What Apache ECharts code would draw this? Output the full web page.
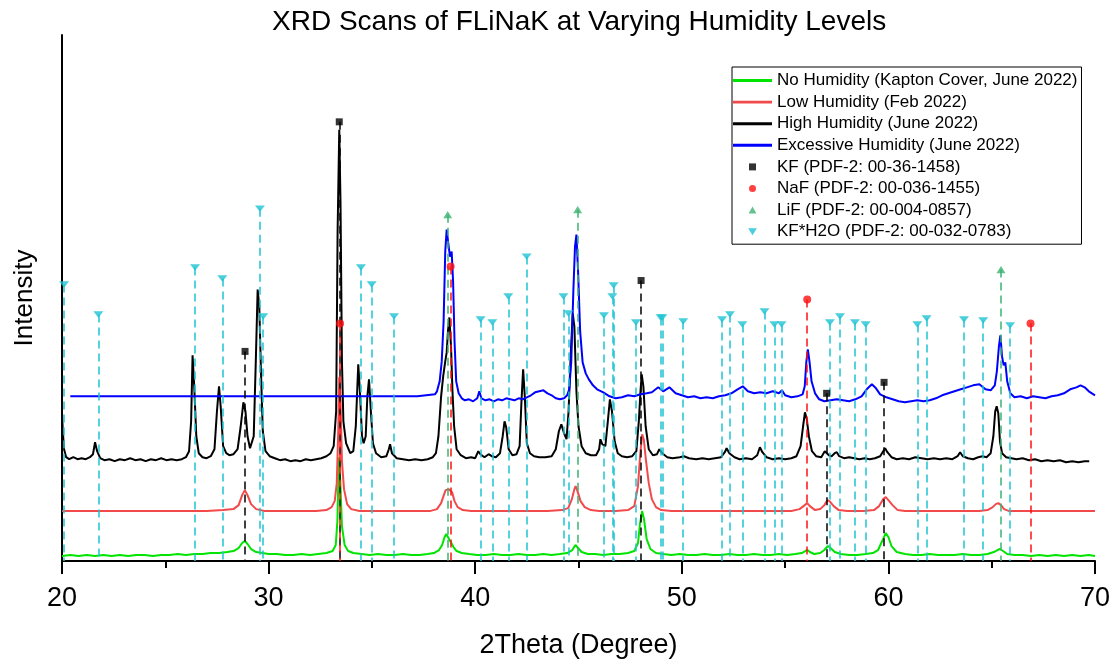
<!DOCTYPE html>
<html>
<head>
<meta charset="utf-8">
<title>XRD Scans of FLiNaK</title>
<script src="https://cdn.jsdelivr.net/npm/echarts/dist/echarts.min.js"></script>
<style>
  html, body { margin: 0; padding: 0; background: #ffffff; }
  #chart { width: 1117px; height: 664px; }
</style>
</head>
<body>
<div id="chart"></div>
<script>
// 2Theta (degree) vs. intensity, each scan stacked with its own vertical offset.
const noHumidity = [
  [20.0,5],[20.4,6],[20.8,5],[21.2,6],[21.6,5],[22.0,6],[22.4,5],[22.8,6],[23.2,5],[23.6,6],[24.0,6],[24.4,5],
  [24.8,6],[25.2,6],[25.6,7],[26.0,6],[26.4,7],[26.8,7],[27.2,8],[27.6,8],[28.0,9],[28.3,10],[28.55,13],[28.72,18],
  [28.85,20],[28.98,17],[29.15,12],[29.4,9],[29.7,8],[30.0,7],[30.4,7],[30.8,6],[31.2,6],[31.6,7],[32.0,6],[32.4,7],
  [32.8,8],[33.1,10],[33.25,16],[33.33,40],[33.4,104],[33.47,80],[33.55,35],[33.68,16],[33.85,10],[34.1,8],[34.5,7],
  [34.9,6],[35.3,7],[35.7,6],[36.1,6],[36.5,7],[36.9,6],[37.3,6],[37.7,7],[38.0,8],[38.25,11],[38.4,16],[38.52,24],
  [38.6,27],[38.68,24],[38.76,21],[38.84,19],[38.95,14],[39.1,10],[39.35,8],[39.7,7],[40.1,6],[40.5,6],[40.9,7],
  [41.3,6],[41.7,6],[42.1,7],[42.5,6],[42.9,6],[43.3,7],[43.7,6],[44.1,7],[44.45,8],[44.7,11],[44.85,16],[44.98,13],
  [45.15,9],[45.45,7],[45.8,7],[46.2,6],[46.6,7],[47.0,7],[47.4,8],[47.7,10],[47.88,18],[47.98,38],[48.08,50],
  [48.17,42],[48.3,22],[48.48,12],[48.75,8],[49.1,7],[49.5,6],[49.9,7],[50.3,6],[50.7,6],[51.1,7],[51.5,6],[51.9,6],
  [52.3,7],[52.7,6],[53.1,6],[53.5,7],[53.9,6],[54.3,6],[54.7,7],[55.1,6],[55.5,7],[55.8,8],[55.98,10],[56.08,11],
  [56.2,9],[56.4,7],[56.7,8],[56.9,11],[57.07,15],[57.2,13],[57.4,9],[57.7,7],[58.1,6],[58.5,6],[58.9,7],[59.25,8],
  [59.5,11],[59.7,20],[59.87,28],[60.0,24],[60.15,15],[60.4,9],[60.8,7],[61.2,6],[61.6,6],[62.0,7],[62.4,6],[62.8,6],
  [63.2,6],[63.6,7],[64.0,6],[64.4,6],[64.8,7],[65.1,9],[65.28,11],[65.4,12],[65.55,10],[65.75,7],[66.1,6],[66.5,6],
  [66.9,5],[67.3,6],[67.7,5],[68.1,6],[68.5,5],[68.9,6],[69.3,5],[69.7,6],[70.0,5]
];

const lowHumidity = [
  [20.0,50],[21.0,50],[22.0,50],[23.0,50],[24.0,50],[25.0,50],[26.0,50],[27.0,50],[27.8,51],[28.3,52],[28.55,56],
  [28.72,66],[28.85,71],[28.98,66],[29.15,57],[29.4,52],[29.8,50],[30.5,50],[31.5,50],[32.3,50],[32.8,51],[33.05,54],
  [33.2,60],[33.3,78],[33.37,130],[33.42,184],[33.48,160],[33.55,100],[33.65,72],[33.8,57],[34.0,52],[34.4,50],
  [35.0,50],[36.0,50],[37.0,50],[37.8,50],[38.15,52],[38.35,58],[38.48,66],[38.57,71],[38.65,69],[38.72,72],[38.8,74],
  [38.88,69],[39.0,60],[39.15,54],[39.4,51],[39.8,50],[40.5,50],[41.5,50],[42.5,50],[43.5,50],[44.2,51],[44.5,53],
  [44.68,62],[44.8,72],[44.86,75],[44.95,70],[45.1,60],[45.3,54],[45.6,51],[46.0,50],[46.8,50],[47.4,51],[47.7,55],
  [47.88,75],[47.98,105],[48.08,127],[48.16,122],[48.27,100],[48.4,78],[48.55,62],[48.75,54],[49.0,51],[49.5,50],
  [50.5,50],[51.5,50],[52.5,50],[53.5,50],[54.5,50],[55.3,50],[55.7,52],[55.95,56],[56.07,58],[56.2,55],[56.45,51],
  [56.7,52],[56.9,56],[57.05,61],[57.15,60],[57.35,55],[57.6,51],[58.0,50],[58.8,50],[59.3,51],[59.55,55],[59.75,62],
  [59.87,64],[60.0,61],[60.2,56],[60.45,51],[60.8,50],[61.5,50],[62.5,50],[63.5,50],[64.4,50],[64.8,51],[65.05,54],
  [65.2,57],[65.32,58],[65.45,56],[65.6,52],[65.85,50],[66.5,50],[67.5,50],[68.5,50],[69.5,50],[70.0,50]
];

const highHumidity = [
  [20.0,148],[20.04,130],[20.1,112],[20.2,104],[20.35,102],[20.55,104],[20.75,102],[20.95,103],[21.15,102],[21.35,104],
  [21.5,107],[21.6,119],[21.7,110],[21.85,103],[22.05,101],[22.3,102],[22.55,100],[22.8,102],[23.05,101],[23.3,103],
  [23.55,101],[23.8,102],[24.05,100],[24.3,102],[24.55,101],[24.8,103],[25.05,101],[25.3,102],[25.55,101],[25.8,102],
  [26.0,104],[26.15,110],[26.25,140],[26.32,206],[26.4,175],[26.5,125],[26.62,108],[26.8,104],[27.0,103],[27.2,105],
  [27.38,112],[27.5,150],[27.6,175],[27.68,155],[27.8,115],[27.95,108],[28.1,106],[28.3,107],[28.5,112],[28.65,135],
  [28.78,159],[28.88,150],[28.98,125],[29.1,113],[29.18,112],[29.28,125],[29.38,200],[29.47,272],[29.55,255],
  [29.63,190],[29.72,130],[29.85,110],[30.05,105],[30.3,103],[30.55,101],[30.8,102],[31.05,100],[31.3,101],[31.55,100],
  [31.8,102],[32.05,101],[32.3,102],[32.55,103],[32.8,105],[33.0,108],[33.15,115],[33.27,150],[33.34,330],[33.42,432],
  [33.48,360],[33.55,200],[33.62,140],[33.75,118],[33.95,108],[34.1,110],[34.22,135],[34.34,197],[34.42,170],
  [34.52,125],[34.6,118],[34.7,125],[34.78,165],[34.86,182],[34.95,150],[35.05,118],[35.2,108],[35.45,104],[35.7,105],
  [35.82,112],[35.88,117],[35.97,108],[36.2,103],[36.5,102],[36.8,101],[37.1,102],[37.4,101],[37.7,102],[37.95,104],
  [38.1,108],[38.22,125],[38.35,165],[38.45,185],[38.55,200],[38.62,209],[38.68,230],[38.75,244],[38.83,215],
  [38.9,170],[38.98,135],[39.1,112],[39.3,106],[39.55,103],[39.8,104],[40.0,103],[40.15,110],[40.25,107],[40.45,104],
  [40.65,107],[40.8,105],[41.0,104],[41.2,108],[41.33,125],[41.42,140],[41.5,134],[41.62,112],[41.8,106],[42.0,107],
  [42.15,115],[42.24,160],[42.32,192],[42.4,165],[42.5,118],[42.65,108],[42.85,105],[43.1,104],[43.4,104],[43.7,105],
  [43.9,112],[44.05,130],[44.17,137],[44.3,128],[44.42,122],[44.52,150],[44.62,205],[44.72,248],[44.8,235],[44.9,170],
  [45.0,135],[45.15,115],[45.35,108],[45.6,106],[45.85,106],[46.0,112],[46.06,122],[46.15,117],[46.3,115],[46.42,140],
  [46.52,162],[46.62,150],[46.75,120],[46.9,108],[47.1,105],[47.35,104],[47.6,105],[47.8,110],[47.92,140],[48.0,170],
  [48.06,187],[48.14,175],[48.25,135],[48.4,112],[48.6,106],[48.8,107],[48.91,112],[49.05,108],[49.3,104],[49.55,103],
  [49.9,104],[50.1,105],[50.35,103],[50.7,102],[51.0,103],[51.3,102],[51.6,103],[51.9,104],[52.08,109],[52.17,113],
  [52.3,108],[52.55,104],[52.8,102],[53.1,103],[53.4,102],[53.65,106],[53.78,114],[53.9,109],[54.1,104],[54.4,102],
  [54.7,103],[55.0,102],[55.3,103],[55.55,105],[55.75,115],[55.87,135],[55.96,149],[56.05,142],[56.15,125],[56.3,110],
  [56.5,105],[56.75,104],[56.92,110],[57.01,112],[57.12,106],[57.25,105],[57.4,108],[57.5,109],[57.62,105],[57.85,103],
  [58.1,104],[58.35,103],[58.6,102],[58.85,103],[59.1,102],[59.35,103],[59.6,105],[59.75,110],[59.84,113],[59.95,109],
  [60.15,104],[60.4,102],[60.7,103],[61.0,102],[61.3,104],[61.6,103],[61.9,102],[62.2,103],[62.5,102],[62.8,103],
  [63.1,102],[63.35,105],[63.47,109],[63.6,105],[63.85,103],[64.1,102],[64.35,104],[64.55,105],[64.75,104],[64.95,108],
  [65.08,125],[65.17,150],[65.24,155],[65.32,148],[65.4,120],[65.5,108],[65.7,104],[65.95,103],[66.2,102],[66.5,103],
  [66.8,101],[67.1,102],[67.4,100],[67.7,101],[68.0,100],[68.3,101],[68.6,99],[68.9,100],[69.2,99],[69.5,100],[69.72,100]
];

const excessiveHumidity = [
  [20.4,165],[37.2,165],[37.25,166],[38.05,167],[38.15,170],[38.28,180],[38.38,200],[38.47,240],[38.55,310],[38.62,332],
  [38.7,318],[38.78,305],[38.86,310],[38.93,280],[39.0,220],[39.08,180],[39.2,168],[39.35,163],[39.5,161],[39.7,162],
  [39.9,160],[40.1,163],[40.2,170],[40.3,163],[40.5,161],[40.7,162],[40.9,160],[41.1,162],[41.3,161],[41.5,163],
  [41.7,162],[41.9,161],[42.1,163],[42.3,162],[42.5,164],[42.7,166],[42.9,169],[43.1,170],[43.3,171],[43.5,168],
  [43.7,166],[43.9,163],[44.1,162],[44.3,163],[44.45,166],[44.55,172],[44.65,200],[44.75,270],[44.83,315],[44.9,327],
  [44.98,290],[45.08,230],[45.2,199],[45.35,188],[45.5,182],[45.7,176],[45.9,172],[46.2,169],[46.5,165],[46.8,163],
  [47.1,164],[47.4,166],[47.7,165],[48.0,167],[48.3,168],[48.55,169],[48.86,174],[49.1,170],[49.4,174],[49.7,168],
  [50.0,166],[50.3,164],[50.6,165],[50.9,163],[51.2,164],[51.5,163],[51.8,165],[52.1,166],[52.4,168],[52.7,172],
  [52.95,175],[53.2,170],[53.5,168],[53.8,169],[54.1,168],[54.4,170],[54.7,168],[54.85,171],[55.0,166],[55.3,164],
  [55.6,165],[55.85,167],[55.95,175],[56.03,200],[56.1,212],[56.18,200],[56.28,180],[56.45,168],[56.65,162],[56.9,160],
  [57.2,161],[57.5,162],[57.8,161],[58.1,160],[58.4,162],[58.7,165],[58.95,172],[59.2,177],[59.4,173],[59.6,167],
  [59.9,164],[60.2,162],[60.5,160],[60.8,159],[61.1,160],[61.4,161],[61.7,160],[62.0,161],[62.3,163],[62.6,166],
  [62.9,168],[63.2,170],[63.5,172],[63.8,174],[64.1,176],[64.4,177],[64.7,172],[64.95,171],[65.15,176],[65.25,190],
  [65.35,215],[65.42,226],[65.5,205],[65.58,196],[65.66,199],[65.75,180],[65.9,168],[66.1,164],[66.4,165],[66.7,163],
  [67.0,165],[67.3,164],[67.6,163],[67.9,165],[68.2,166],[68.5,168],[68.8,172],[69.1,174],[69.3,176],[69.5,174],
  [69.7,170],[69.85,168],[70.0,166]
];

// Reference pattern positions: [2Theta, height of the tag above the baseline]
const kfRefs = [[28.86,210],[33.42,440],[48.03,281],[57.01,168],[59.79,179]];
const nafRefs = [[33.46,238],[38.81,295],[56.07,262],[66.88,238]];
const lifRefs = [[38.67,347],[44.96,352],[65.45,292]];
const kfHydrateRefs = [
  [20.1,277],[21.76,247],[26.44,294],[27.76,283],[29.58,353],[29.74,245],[34.47,294],[34.99,277],[36.07,245],
  [40.26,242],[40.83,239],[41.6,265],[42.49,305],[44.27,265],[44.51,248],[46.23,246],[46.64,265],[46.7,276],
  [47.78,239],[48.97,244],[49.06,244],[50.07,240],[51.95,242],[52.33,247],[52.93,237],[54.0,250],[54.48,237],
  [54.83,237],[57.17,239],[57.66,245],[58.38,239],[58.9,237],[61.4,237],[61.85,243],[63.66,242],[64.59,241],[65.89,236]
];

const scanNames = [
  'No Humidity (Kapton Cover, June 2022)',
  'Low Humidity (Feb 2022)',
  'High Humidity (June 2022)',
  'Excessive Humidity (June 2022)'
];
const refNames = [
  'KF (PDF-2: 00-36-1458)',
  'NaF (PDF-2: 00-036-1455)',
  'LiF (PDF-2: 00-004-0857)',
  'KF*H2O (PDF-2: 00-032-0783)'
];

const scanColors = ['#00e400', '#f24a4a', '#000000', '#0000ff'];
const refColors = ['#000000', '#ff1010', '#3cb371', '#1fc3d3'];

const FONT = '"Liberation Sans", Arial, sans-serif';
const lineIcon = 'path://M0,0H40V3H0Z';
const squareMark = 'path://M0,0H10V10H0Z';
const circleMark = 'circle';
const upTriangle = 'path://M5,0L10,9L0,9Z';
const downTriangle = 'path://M0,0L10,0L5,8Z';

const scans = [noHumidity, lowHumidity, highHumidity, excessiveHumidity];
const scanSeries = scans.map((data, i) => ({
  type: 'line',
  name: scanNames[i],
  data: data,
  symbol: 'none',
  showSymbol: false,
  silent: true,
  z: 2,
  color: scanColors[i],
  itemStyle: { color: scanColors[i] },
  lineStyle: { color: scanColors[i], width: 2 }
}));

function refSeries(name, refs, symbol, size, color) {
  return {
    type: 'scatter',
    name: name,
    data: refs,
    symbol: symbol,
    symbolSize: size,
    symbolKeepAspect: true,
    silent: true,
    z: 4,
    color: color,
    itemStyle: { color: color },
    markLine: {
      silent: true,
      z: 3,
      symbol: ['none', 'none'],
      label: { show: false },
      lineStyle: { color: color, width: 1.5, type: [8, 5] },
      data: refs.map(p => [{ coord: [p[0], p[1]] }, { coord: [p[0], 0] }])
    }
  };
}

const refSymbols = [squareMark, circleMark, upTriangle, downTriangle];
const refSizes = [7, 8, [9, 8], [10, 8]];
const refSets = [kfRefs, nafRefs, lifRefs, kfHydrateRefs];
const refSeriesList = refSets.map((refs, i) =>
  refSeries(refNames[i], refs, refSymbols[i], refSizes[i], refColors[i]));

const legendData = scanNames.map((n, i) => ({
  name: n, icon: lineIcon, itemStyle: { color: scanColors[i], borderWidth: 0 }
})).concat(refNames.map((n, i) => ({
  name: n, icon: refSymbols[i], itemStyle: { color: refColors[i], borderWidth: 0 }
})));

const chart = echarts.init(document.getElementById('chart'), null, { renderer: 'canvas' });
chart.setOption({
  animation: false,
  backgroundColor: '#ffffff',
  textStyle: { fontFamily: FONT },
  title: {
    text: 'XRD Scans of FLiNaK at Varying Humidity Levels',
    left: 267,
    top: 3,
    textStyle: { fontFamily: FONT, fontSize: 28, fontWeight: 'normal', color: '#000' }
  },
  legend: {
    orient: 'vertical',
    left: 732,
    top: 67,
    padding: [5, 4, 4, 1],
    itemWidth: 39,
    itemHeight: 7,
    itemGap: 4.6,
    borderColor: '#000',
    borderWidth: 1,
    selectedMode: false,
    symbolKeepAspect: true,
    itemStyle: { borderWidth: 0 },
    textStyle: { fontFamily: FONT, fontSize: 17, color: '#000' },
    data: legendData
  },
  grid: { left: 62, right: 22, top: 35, bottom: 102, containLabel: false },
  xAxis: {
    type: 'value',
    min: 20,
    max: 70,
    interval: 10,
    name: '2Theta (Degree)',
    nameLocation: 'middle',
    nameGap: 71,
    nameTextStyle: { fontFamily: FONT, fontSize: 27, color: '#000' },
    axisLine: { onZero: false, lineStyle: { color: '#000', width: 2 } },
    axisTick: { length: 13, lineStyle: { color: '#000', width: 2 } },
    minorTick: { show: true, splitNumber: 2, length: 7, lineStyle: { color: '#000', width: 2 } },
    axisLabel: { fontFamily: FONT, fontSize: 27, color: '#000', margin: 24 },
    splitLine: { show: false },
    minorSplitLine: { show: false }
  },
  yAxis: {
    type: 'value',
    min: 0,
    max: 527,
    name: 'Intensity',
    nameLocation: 'middle',
    nameRotate: 90,
    nameGap: 24,
    nameTextStyle: { fontFamily: FONT, fontSize: 26, color: '#000' },
    axisLine: { show: true, onZero: false, lineStyle: { color: '#000', width: 2 } },
    axisTick: { show: false },
    axisLabel: { show: false },
    splitLine: { show: false }
  },
  series: scanSeries.concat(refSeriesList)
});
</script>
</body>
</html>
